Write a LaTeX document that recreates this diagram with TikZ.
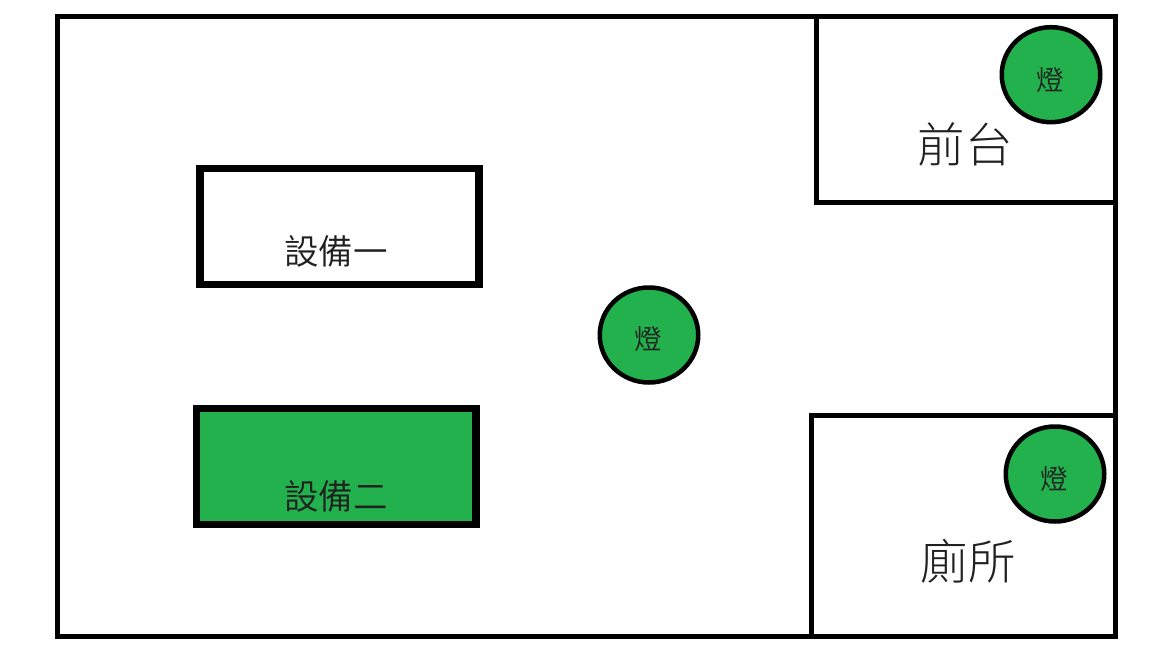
\documentclass[tikz,border=0pt]{standalone}
\usepackage{fontspec}
\usetikzlibrary{shapes.geometric}
\setmainfont{Liberation Sans}
\newfontfamily\cjk{Noto Sans CJK TC DemiLight}
\newfontfamily\cjklight{Noto Sans CJK TC Light}
\definecolor{gr}{RGB}{34,177,76}
\definecolor{tx}{RGB}{32,32,32}
\tikzset{
  wall/.style={draw=black,line width=5pt,fill=none},
  lamp/.style={ellipse,draw=black,fill=gr,line width=4.5pt,minimum width=98.5pt,minimum height=95pt,inner sep=0pt},
  lamplab/.style={font=\cjk\fontsize{27.5pt}{28pt}\selectfont,text=tx,inner sep=0pt},
  devlab/.style={font=\cjk\fontsize{34.5pt}{36pt}\selectfont,text=tx,inner sep=0pt},
  roomlab/.style={font=\cjklight\fontsize{47.5pt}{50pt}\selectfont,text=tx,inner sep=0pt},
}
\begin{document}
\begin{tikzpicture}[x=1pt,y=-1pt]
\useasboundingbox (0,0) rectangle (1152,648);
\draw[wall] (57.5,16.5) rectangle (1115.5,636);
\draw[wall] (816,17) -- (816,202.5) -- (1115,202.5);
\draw[wall] (811,636) -- (811,415) -- (1115,415);
\node[draw=black,line width=7.5pt,fill=white,inner sep=0pt,minimum width=279pt,minimum height=116pt] (d1) at (339.5,226.5) {};
\node[draw=black,line width=7.5pt,fill=gr,inner sep=0pt,minimum width=279.5pt,minimum height=116pt] (d2) at (336.3,466.5) {};
\node[devlab] (t1) at (336,251) {設備一};
\node[devlab] (t2) at (336,496) {設備二};
\node[lamp] (l1) at (649,335) {};
\node[lamp] (l2) at (1051,74.7) {};
\node[lamp] (l3) at (1055,474) {};
\node[lamplab] (g1) at (648.5,339) {燈};
\node[lamplab] (g2) at (1050,80) {燈};
\node[lamplab] (g3) at (1054,479) {燈};
\node[roomlab] (r1) at (965,144.5) {前台};
\node[roomlab] (r2) at (968,561.5) {廁所};
\end{tikzpicture}
\end{document}
